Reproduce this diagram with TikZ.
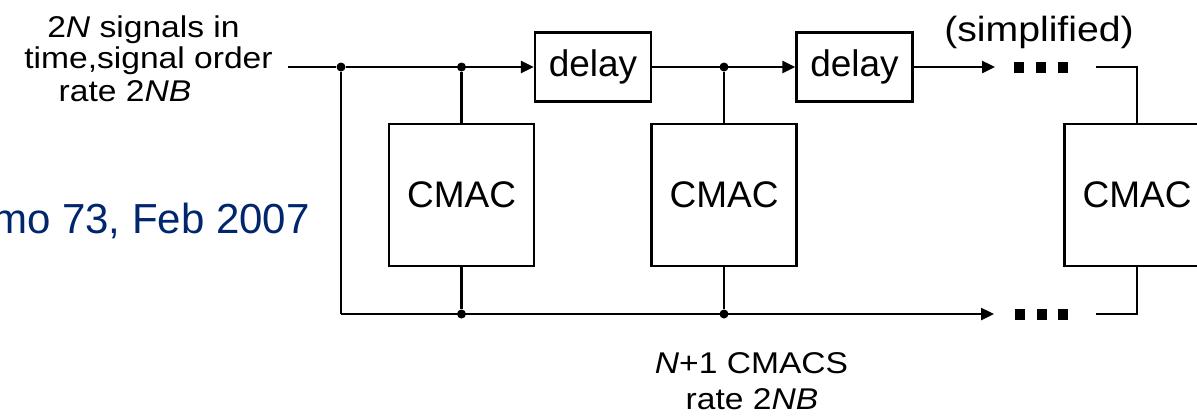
\documentclass[tikz,border=0pt]{standalone}
\usepackage{fontspec}
\setmainfont{Liberation Sans}
\newfontfamily\lblfont[FakeStretch=1.12]{Liberation Sans}
\usetikzlibrary{arrows.meta}
\definecolor{memoblue}{RGB}{0,38,110}
\begin{document}
\begin{tikzpicture}[x=0.5pt,y=-0.5pt,
  wire/.style={line width=1.2pt},
  arr/.style={wire,-{Triangle[length=6.5pt,width=6pt]}},
  delaybox/.style={draw,line width=1.2pt,minimum width=58pt,minimum height=34.5pt,inner sep=0pt,font=\fontsize{18.5}{20}\selectfont},
  cmacbox/.style={draw,line width=1.2pt,minimum width=72.5pt,minimum height=71pt,inner sep=0pt,font=\fontsize{18.5}{20}\selectfont},
  junction/.style={circle,fill,inner sep=0pt,minimum size=4.5pt},
  lbl/.style={inner sep=0pt,anchor=base,font=\lblfont\fontsize{15}{16}\selectfont},
  sq/.style={fill,inner sep=0pt,minimum width=5pt,minimum height=5.5pt},
]
\clip (0,0) rectangle (1197,419);
% input labels
\node[lbl] (in1) at (143.5,37) {2\textit{N} signals in};
\node[lbl] (in2) at (148.5,68) {time,signal order};
\node[lbl] (in3) at (125,101) {rate 2\textit{NB}};
\node[anchor=base east,inner sep=0pt,text=memoblue,font=\fontsize{21}{24}\selectfont] (memo) at (310,233) {mo 73, Feb 2007};
% top chain
\coordinate (start) at (288,67);
\node[junction] (j1) at (341,67) {};
\node[junction] (j2) at (461.5,67) {};
\node[delaybox] (d1) at (593,67) {delay};
\node[junction] (j3) at (724,67) {};
\node[delaybox] (d2) at (854.5,67) {delay};
\coordinate (tipT) at (995,67);
\node[sq] (t1) at (1019,67) {};
\node[sq] (t2) at (1041,67) {};
\node[sq] (t3) at (1063,67) {};
\coordinate (rT) at (1096,67);
\node[lbl,font=\lblfont\fontsize{17.5}{19}\selectfont] (simp) at (1039,41) {(simplified)};
% CMACs
\node[cmacbox] (c1) at (461.5,195) {CMAC};
\node[cmacbox] (c2) at (724,195) {CMAC};
\node[cmacbox] (c3) at (1137,195) {CMAC};
% bottom chain
\coordinate (bl) at (341,314);
\node[junction] (b1) at (461.5,314) {};
\node[junction] (b2) at (724,314) {};
\coordinate (tipB) at (994,314);
\node[sq] (s1) at (1020,314) {};
\node[sq] (s2) at (1042,314) {};
\node[sq] (s3) at (1063,314) {};
\coordinate (rB) at (1096,314);
\node[lbl] (ncm) at (751.5,373) {\textit{N}+1 CMACS};
\node[lbl] (rate) at (752,409) {rate 2\textit{NB}};
% connectors
\draw[wire] (start) -- (j1);
\draw[arr] (j1) -- (d1.west);
\draw[wire] (j2) -- (c1.north);
\draw[arr] (d1.east) -- (d2.west);
\draw[wire] (j3) -- (c2.north);
\draw[arr] (d2.east) -- (tipT);
\draw[wire] (rT) -| (c3.north);
\draw[wire] (j1) -- (bl);
\draw[arr] (bl) -- (tipB);
\draw[wire] (c1.south) -- (b1);
\draw[wire] (c2.south) -- (b2);
\draw[wire] (rB) -| (c3.south);
\end{tikzpicture}
\end{document}
